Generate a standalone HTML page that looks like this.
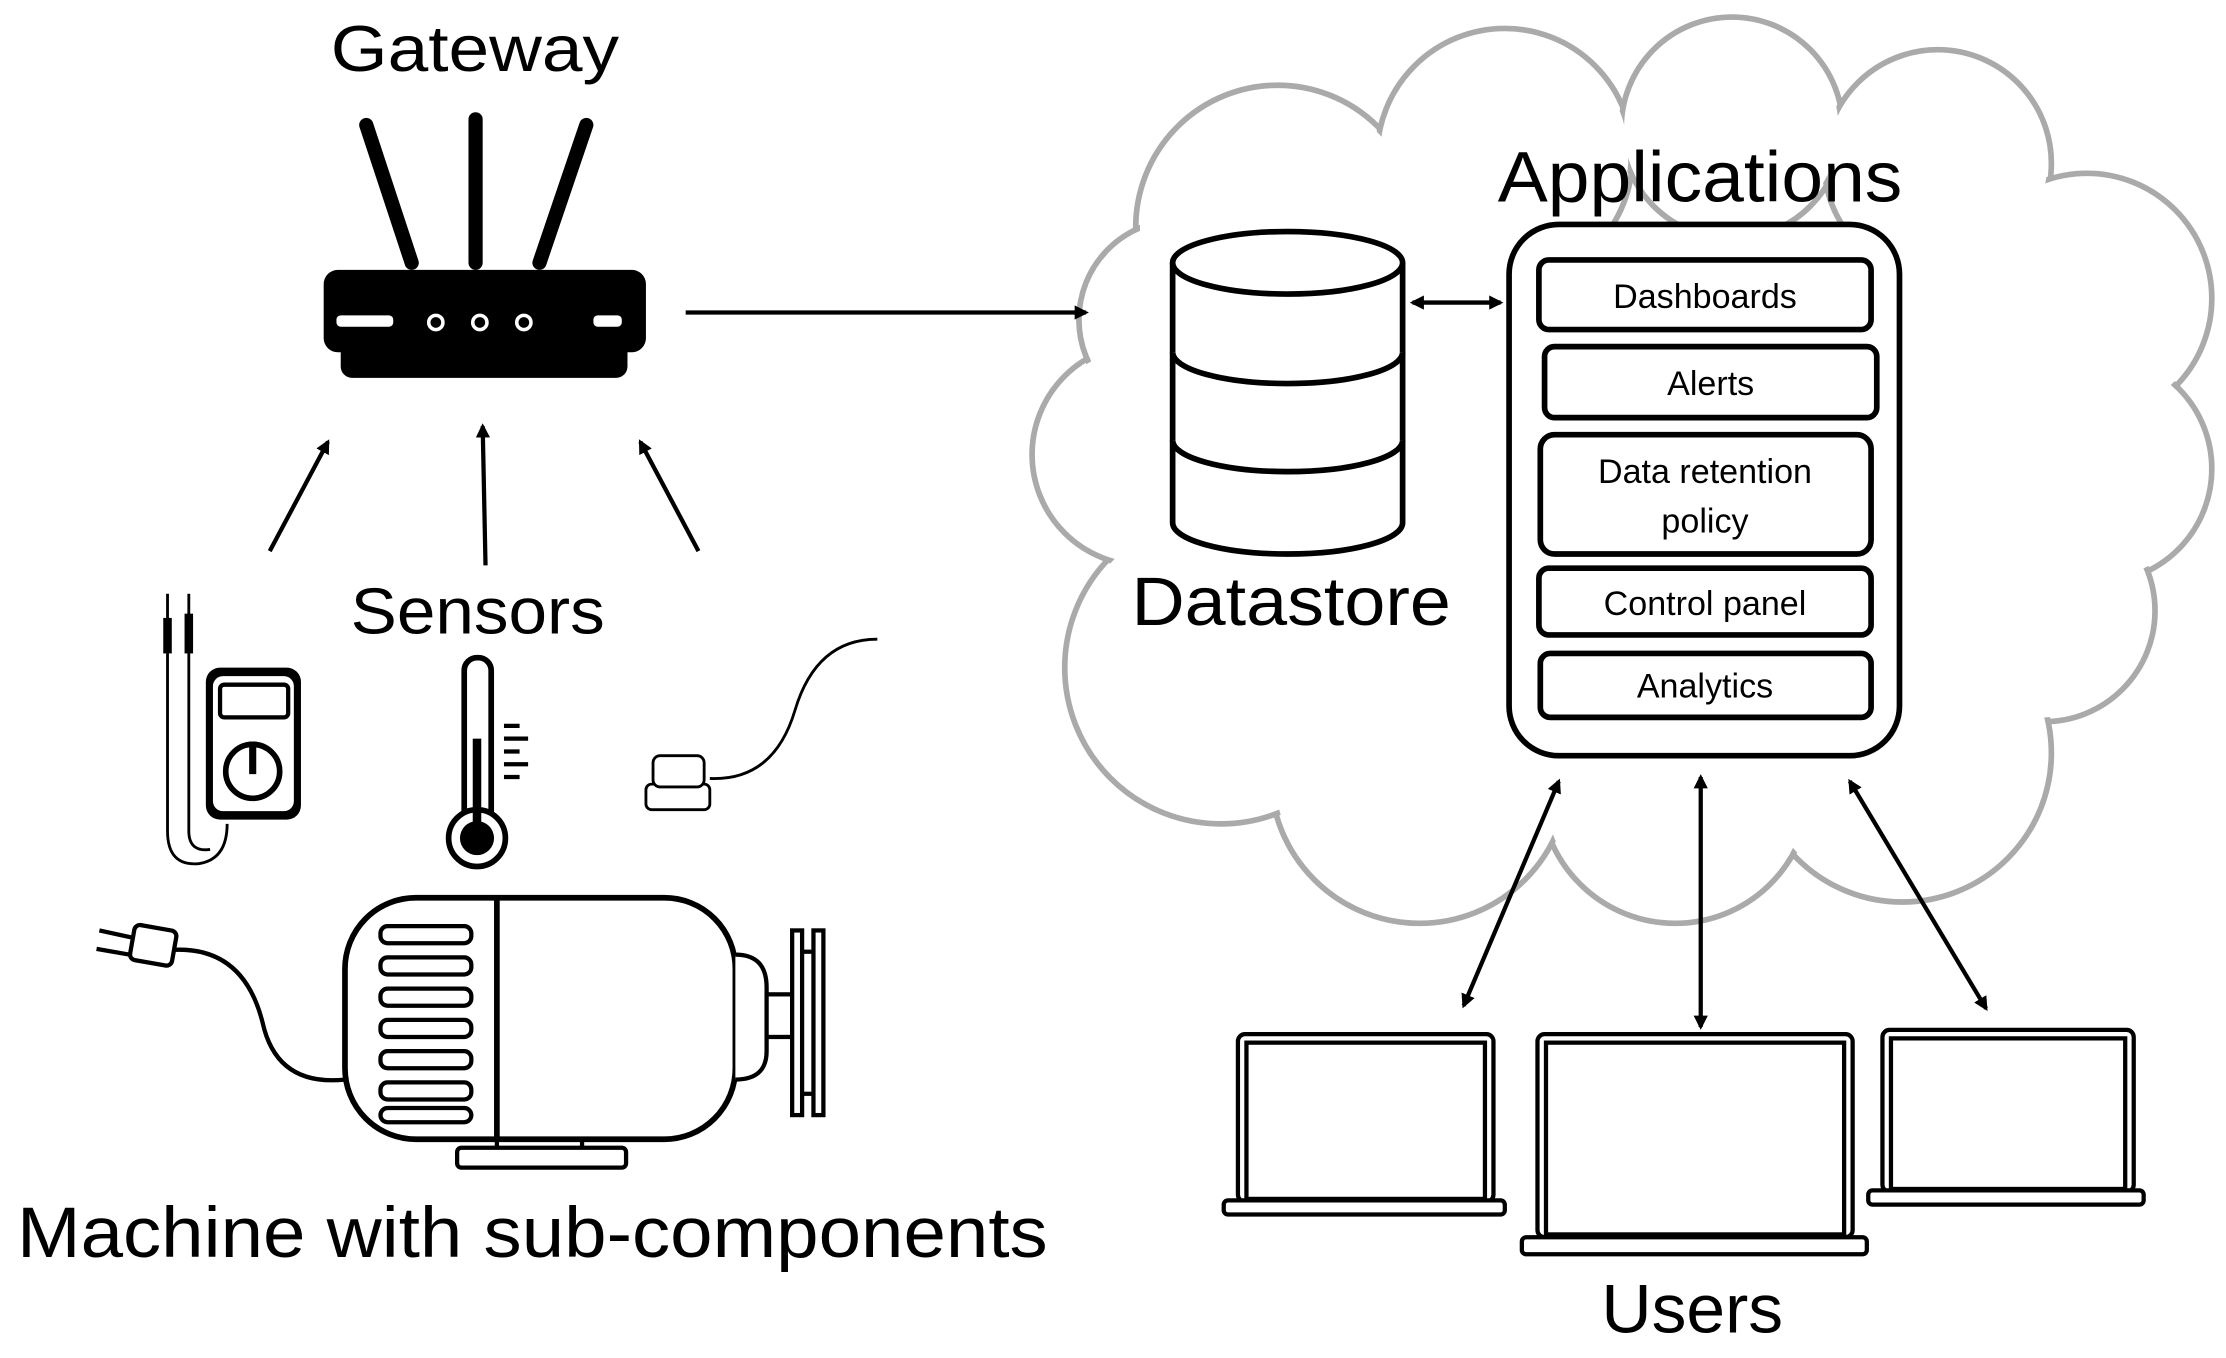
<!DOCTYPE html>
<html><head><meta charset="utf-8"><style>
html,body{margin:0;padding:0;background:#fff;}
svg{display:block;}
text{font-family:"Liberation Sans",sans-serif;fill:#000;}
</style></head><body>
<svg width="2226" height="1358" viewBox="0 0 1568 956" preserveAspectRatio="none" xmlns="http://www.w3.org/2000/svg">
<defs>
<marker id="a" markerWidth="10" markerHeight="10" refX="8" refY="5" orient="auto" markerUnits="userSpaceOnUse"><path d="M0,0 L10,5 L0,10 z" fill="#000"/></marker>
<marker id="s" markerWidth="10" markerHeight="10" refX="2" refY="5" orient="auto" markerUnits="userSpaceOnUse"><path d="M10,0 L0,5 L10,10 z" fill="#000"/></marker>
</defs>
<!-- cloud -->
<g fill="#fff" stroke="#aaa" stroke-width="4">
<circle cx="900" cy="160" r="100"/><circle cx="1060" cy="110" r="90"/><circle cx="1220" cy="90" r="78"/>
<circle cx="1365" cy="115" r="80"/><circle cx="1470" cy="210" r="88"/><circle cx="1478" cy="330" r="80"/>
<circle cx="1440" cy="430" r="78"/><circle cx="1340" cy="530" r="105"/><circle cx="1180" cy="555" r="95"/>
<circle cx="1000" cy="545" r="105"/><circle cx="860" cy="470" r="110"/><circle cx="805" cy="320" r="78"/><circle cx="830" cy="225" r="70"/>
</g>
<g fill="#fff">
<circle cx="900" cy="160" r="97"/><circle cx="1060" cy="110" r="87"/><circle cx="1220" cy="90" r="75"/>
<circle cx="1365" cy="115" r="77"/><circle cx="1470" cy="210" r="85"/><circle cx="1478" cy="330" r="77"/>
<circle cx="1440" cy="430" r="75"/><circle cx="1340" cy="530" r="102"/><circle cx="1180" cy="555" r="92"/>
<circle cx="1000" cy="545" r="102"/><circle cx="860" cy="470" r="107"/><circle cx="805" cy="320" r="75"/><circle cx="830" cy="225" r="67"/>
<rect x="880" y="170" width="530" height="370"/>
<circle cx="1440" cy="280" r="45"/>
</g>
<!-- gateway -->
<text x="233" y="50" font-size="46" textLength="203" lengthAdjust="spacingAndGlyphs">Gateway</text>
<g stroke="#000" stroke-width="10" stroke-linecap="round">
<line x1="258" y1="88" x2="290" y2="185"/><line x1="335" y1="84" x2="335" y2="185"/><line x1="413" y1="88" x2="380" y2="185"/>
</g>
<rect x="240" y="240" width="202" height="26" rx="8" fill="#000"/>
<rect x="228" y="190" width="227" height="58" rx="10" fill="#000"/>
<rect x="237" y="222" width="40" height="8" rx="3" fill="#fff"/>
<rect x="418" y="222" width="20" height="8" rx="3" fill="#fff"/>
<g fill="none" stroke="#fff" stroke-width="2.5"><circle cx="307" cy="227" r="5"/><circle cx="338" cy="227" r="5"/><circle cx="369" cy="227" r="5"/></g>
<line x1="483" y1="220" x2="765" y2="220" stroke="#000" stroke-width="3" marker-end="url(#a)"/>
<g stroke="#000" stroke-width="3" marker-end="url(#a)">
<line x1="190" y1="388" x2="231" y2="311"/><line x1="342" y1="398" x2="340" y2="300"/><line x1="492" y1="388" x2="451" y2="311"/>
</g>
<text x="247" y="446" font-size="46" textLength="179" lengthAdjust="spacingAndGlyphs">Sensors</text>
<!-- multimeter -->
<g fill="none" stroke="#000" stroke-width="2">
<path d="M118,460 L118,585 Q118,610 140,608 Q160,605 160,580"/><path d="M133,460 L133,585 Q133,600 148,598"/>
</g>
<rect x="115" y="435" width="6" height="25" fill="#000"/><rect x="130" y="432" width="6" height="28" fill="#000"/>
<line x1="118" y1="418" x2="118" y2="436" stroke="#000" stroke-width="2"/><line x1="133" y1="418" x2="133" y2="433" stroke="#000" stroke-width="2"/>
<rect x="145" y="470" width="67" height="107" rx="10" fill="#000"/>
<rect x="150" y="476" width="57" height="95" rx="7" fill="#fff"/>
<rect x="155" y="482" width="48" height="23" rx="3" fill="none" stroke="#000" stroke-width="3"/>
<circle cx="178" cy="543" r="19" fill="none" stroke="#000" stroke-width="4"/>
<line x1="178" y1="522" x2="178" y2="545" stroke="#000" stroke-width="5"/>
<!-- thermometer -->
<rect x="327" y="463" width="19" height="125" rx="9" fill="#fff" stroke="#000" stroke-width="4"/>
<circle cx="336" cy="590" r="20" fill="#fff" stroke="#000" stroke-width="4"/>
<circle cx="336" cy="590" r="12" fill="#000"/><rect x="333" y="520" width="6" height="70" fill="#000"/>
<g stroke="#000" stroke-width="3"><line x1="355" y1="511" x2="366" y2="511"/><line x1="355" y1="520" x2="372" y2="520"/><line x1="355" y1="529" x2="366" y2="529"/><line x1="355" y1="538" x2="372" y2="538"/><line x1="355" y1="547" x2="366" y2="547"/></g>
<!-- vibration sensor -->
<path d="M500,548 Q545,550 560,500 Q575,450 618,450" fill="none" stroke="#000" stroke-width="2"/>
<rect x="455" y="552" width="45" height="18" rx="4" fill="#fff" stroke="#000" stroke-width="2"/>
<rect x="460" y="532" width="36" height="22" rx="5" fill="#fff" stroke="#000" stroke-width="2"/>
<!-- motor -->
<path d="M110,670 Q170,660 185,720 Q195,765 243,760" fill="none" stroke="#000" stroke-width="3"/>
<rect x="93" y="653" width="30" height="25" rx="4" transform="rotate(10 108 665)" fill="#fff" stroke="#000" stroke-width="3"/>
<line x1="70" y1="655" x2="93" y2="660" stroke="#000" stroke-width="3"/><line x1="68" y1="668" x2="91" y2="672" stroke="#000" stroke-width="3"/>
<rect x="322" y="808" width="119" height="14" rx="3" fill="#fff" stroke="#000" stroke-width="3"/>
<line x1="350" y1="798" x2="350" y2="808" stroke="#000" stroke-width="3"/><line x1="410" y1="798" x2="410" y2="808" stroke="#000" stroke-width="3"/>
<rect x="243" y="632" width="275" height="170" rx="50" fill="#fff" stroke="#000" stroke-width="4"/>
<line x1="350" y1="632" x2="350" y2="802" stroke="#000" stroke-width="4"/>
<g fill="#fff" stroke="#000" stroke-width="3">
<rect x="268" y="652" width="64" height="12" rx="5"/><rect x="268" y="674" width="64" height="12" rx="5"/><rect x="268" y="696" width="64" height="12" rx="5"/><rect x="268" y="718" width="64" height="12" rx="5"/><rect x="268" y="740" width="64" height="12" rx="5"/><rect x="268" y="762" width="64" height="12" rx="5"/><rect x="268" y="780" width="64" height="10" rx="5"/>
<path d="M518,672 Q540,672 540,695 L540,740 Q540,760 518,760"/>
<rect x="540" y="700" width="18" height="30"/>
<rect x="558" y="655" width="7" height="130"/><rect x="573" y="655" width="7" height="130"/>
<line x1="565" y1="670" x2="573" y2="670"/><line x1="565" y1="770" x2="573" y2="770"/>
</g>
<text x="12" y="885" font-size="50" textLength="726" lengthAdjust="spacingAndGlyphs">Machine with sub-components</text>
<!-- datastore -->
<g fill="#fff" stroke="#000" stroke-width="4">
<path d="M826,185 L826,368 A81,22 0 0 0 988,368 L988,185"/>
<path d="M826,248 A81,22 0 0 0 988,248"/><path d="M826,310 A81,22 0 0 0 988,310"/>
<ellipse cx="907" cy="185" rx="81" ry="22"/>
</g>
<text x="797" y="440" font-size="48" textLength="225" lengthAdjust="spacingAndGlyphs">Datastore</text>
<line x1="995" y1="213" x2="1057" y2="213" stroke="#000" stroke-width="3" marker-start="url(#s)" marker-end="url(#a)"/>
<!-- applications -->
<text x="1055" y="142" font-size="50" textLength="285" lengthAdjust="spacingAndGlyphs">Applications</text>
<rect x="1063" y="158" width="275" height="374" rx="35" fill="#fff" stroke="#000" stroke-width="4"/>
<g fill="#fff" stroke="#000" stroke-width="4">
<rect x="1084" y="183" width="234" height="49" rx="7"/><rect x="1088" y="244" width="234" height="50" rx="7"/>
<rect x="1085" y="306" width="233" height="84" rx="10"/><rect x="1084" y="400" width="234" height="47" rx="7"/>
<rect x="1085" y="460" width="233" height="45" rx="7"/>
</g>
<g font-size="24" text-anchor="middle">
<text x="1201" y="217">Dashboards</text><text x="1205" y="278">Alerts</text>
<text x="1201" y="340">Data retention</text><text x="1201" y="375">policy</text>
<text x="1201" y="433">Control panel</text><text x="1201" y="491">Analytics</text>
</g>
<g stroke="#000" stroke-width="3" marker-start="url(#s)" marker-end="url(#a)">
<line x1="1098" y1="550" x2="1031" y2="708"/><line x1="1198" y1="547" x2="1198" y2="723"/><line x1="1303" y1="550" x2="1399" y2="710"/>
</g>
<!-- laptops -->
<g fill="#fff" stroke="#000" stroke-width="3">
<rect x="872" y="728" width="180" height="118" rx="5"/><rect x="878" y="734" width="168" height="110"/>
<rect x="862" y="845" width="198" height="10" rx="3"/>
<rect x="1083" y="728" width="222" height="143" rx="5"/><rect x="1089" y="734" width="210" height="135"/>
<rect x="1072" y="871" width="243" height="12" rx="3"/>
<rect x="1326" y="725" width="177" height="114" rx="5"/><rect x="1332" y="731" width="165" height="106"/>
<rect x="1316" y="838" width="194" height="10" rx="3"/>
</g>
<text x="1128" y="938" font-size="48" textLength="128" lengthAdjust="spacingAndGlyphs">Users</text>
</svg>
</body></html>
